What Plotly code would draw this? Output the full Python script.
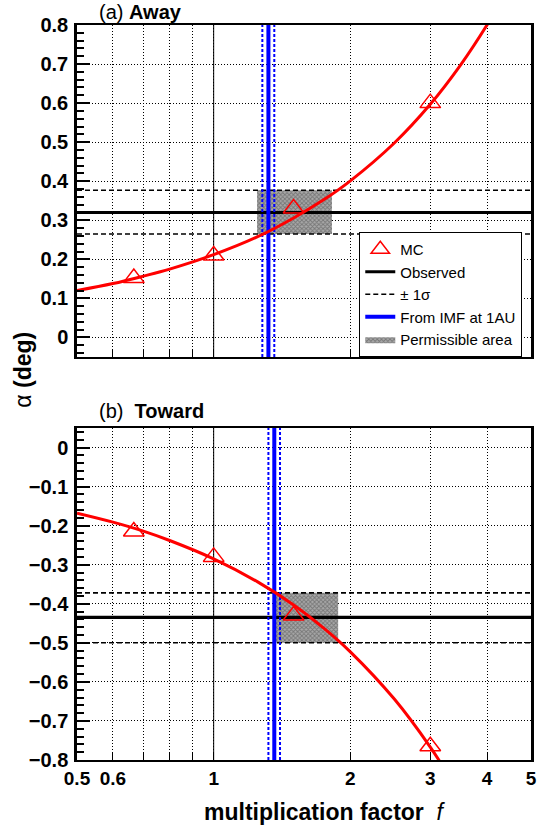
import math
import plotly.graph_objects as go

# ---------------- data ----------------
mc_f = [0.667, 1.0, 1.5, 3.0]
mc_away = [0.152, 0.21, 0.33, 0.60]
mc_toward = [-0.215, -0.28, -0.43, -0.765]

curve_away_f = [0.5, 0.6, 0.7, 0.8, 1.0, 1.25, 1.5, 1.75, 2.0, 2.5, 3.0, 3.5, 4.0, 4.2]
curve_away = [0.120, 0.138, 0.157, 0.175, 0.212, 0.258, 0.306, 0.353, 0.401, 0.498, 0.597, 0.698, 0.800, 0.842]
curve_toward_f = [0.5, 0.6, 0.7, 0.8, 1.0, 1.25, 1.5, 1.75, 2.0, 2.5, 3.0, 3.3]
curve_toward = [-0.168, -0.191, -0.214, -0.238, -0.285, -0.344, -0.403, -0.463, -0.523, -0.644, -0.767, -0.842]

observed_away = 0.32
sigma_away = [0.265, 0.377]
observed_toward = -0.435
sigma_toward = [-0.372, -0.500]

imf_away = 1.32
imf_away_err = [1.28, 1.36]
imf_toward = 1.36
imf_toward_err = [1.32, 1.40]

perm_away_f = [1.246, 1.822]
perm_toward_f = [1.37, 1.88]

x_range = [0.5, 5.0]
y_range_away = [-0.05, 0.8]
y_range_toward = [-0.8, 0.05]
unit_line_f = 1.0

x_tickvals = [0.5, 0.6, 0.7, 0.8, 0.9, 1, 2, 3, 4, 5]
x_ticktext = ["0.5", "0.6", "", "", "", "1", "2", "3", "4", "5"]

# ---------------- figure ----------------
FONT = "Liberation Sans, Arial, Helvetica, sans-serif"
fig = go.Figure()


def add_panel(xa, ya, yr, obs, sig, imf, imf_err, perm_f, cf, cv, mcv, legend):
    # permissible area
    fig.add_trace(go.Scatter(
        x=[perm_f[0], perm_f[1], perm_f[1], perm_f[0], perm_f[0]],
        y=[sig[0], sig[0], sig[1], sig[1], sig[0]],
        mode="lines", fill="toself", line=dict(width=0, color="#777"),
        fillcolor="#999999",
        fillpattern=dict(shape="x", fgcolor="#444444", bgcolor="#a8a8a8", size=3, solidity=0.5),
        name="Permissible area", showlegend=legend, legendrank=5,
        xaxis=xa, yaxis=ya, hoverinfo="skip"))
    # x = 1 reference line
    fig.add_trace(go.Scatter(x=[unit_line_f, unit_line_f], y=yr, mode="lines",
                             line=dict(color="black", width=1), showlegend=False,
                             xaxis=xa, yaxis=ya, hoverinfo="skip"))
    # sigma band
    for i, s in enumerate(sig):
        fig.add_trace(go.Scatter(x=x_range, y=[s, s], mode="lines",
                                 line=dict(color="black", width=1.6, dash="5px,3px"),
                                 name="\u00b1 1\u03c3", showlegend=legend and i == 0, legendrank=3,
                                 xaxis=xa, yaxis=ya, hoverinfo="skip"))
    # observed
    fig.add_trace(go.Scatter(x=x_range, y=[obs, obs], mode="lines",
                             line=dict(color="black", width=3.2),
                             name="Observed", showlegend=legend, legendrank=2,
                             xaxis=xa, yaxis=ya, hoverinfo="skip"))
    # IMF
    for e in imf_err:
        fig.add_trace(go.Scatter(x=[e, e], y=yr, mode="lines",
                                 line=dict(color="#0000ff", width=2, dash="3px,2px"),
                                 showlegend=False, xaxis=xa, yaxis=ya, hoverinfo="skip"))
    fig.add_trace(go.Scatter(x=[imf, imf], y=yr, mode="lines",
                             line=dict(color="#0000ff", width=4),
                             name="From IMF at 1AU", showlegend=legend, legendrank=4,
                             xaxis=xa, yaxis=ya, hoverinfo="skip"))
    # fit curve
    fig.add_trace(go.Scatter(x=cf, y=cv, mode="lines", line=dict(color="#ff0000", width=3, shape="spline"),
                             showlegend=False, xaxis=xa, yaxis=ya, hoverinfo="skip"))
    # MC
    fig.add_trace(go.Scatter(x=mc_f, y=mcv, mode="markers",
                             marker=dict(symbol="triangle-up-open", size=18, color="#ff0000",
                                         line=dict(width=1.5, color="#ff0000")),
                             name="MC", showlegend=legend, legendrank=1,
                             xaxis=xa, yaxis=ya, hoverinfo="skip"))


add_panel("x", "y", y_range_away, observed_away, sigma_away, imf_away, imf_away_err,
          perm_away_f, curve_away_f, curve_away, mc_away, True)
add_panel("x2", "y2", y_range_toward, observed_toward, sigma_toward, imf_toward, imf_toward_err,
          perm_toward_f, curve_toward_f, curve_toward, mc_toward, False)

xcommon = dict(type="log", range=[math.log10(x_range[0]), math.log10(x_range[1])],
               tickvals=x_tickvals, showgrid=True, gridcolor="black", gridwidth=1,
               griddash="1px,2px", showline=True, linecolor="black", linewidth=2, mirror=True,
               ticks="inside", ticklen=7, tickcolor="black", zeroline=False)
ycommon = dict(dtick=0.1, tick0=0, showgrid=True, gridcolor="black", gridwidth=1,
               griddash="1px,2px", showline=True, linecolor="black", linewidth=2.5, mirror=True,
               ticks="inside", ticklen=13, tickcolor="black", tickwidth=1.5, zeroline=False,
               minor=dict(dtick=0.02, ticks="inside", ticklen=7, tickcolor="black", showgrid=False),
               tickfont=dict(family=FONT, size=20, color="black", weight="bold"),
               ticklabelstandoff=2)

top_dom = [(760 - 357) / 735, 1.0]
bot_dom = [0.0, (760 - 428) / 735]

fig.update_layout(
    width=541, height=827,
    margin=dict(l=77, r=4, t=25, b=67),
    paper_bgcolor="white", plot_bgcolor="white",
    xaxis=dict(**xcommon, anchor="y", showticklabels=False),
    yaxis=dict(**ycommon, domain=top_dom, range=y_range_away, anchor="x"),
    xaxis2=dict(**xcommon, anchor="y2", ticktext=x_ticktext,
                tickfont=dict(family=FONT, size=19, color="black", weight="bold"),
                ticklabelstandoff=0),
    yaxis2=dict(**ycommon, domain=bot_dom, range=y_range_toward, anchor="x2"),
    legend=dict(x=(363 - 77) / 460, y=top_dom[0], xanchor="left", yanchor="bottom",
                bordercolor="black", borderwidth=1, bgcolor="white",
                font=dict(family=FONT, size=15, color="black"), tracegroupgap=0,
                itemwidth=30),
    showlegend=True,
)

fig.add_annotation(xref="paper", yref="paper", x=(97 - 77) / 460, y=(760 - 12) / 735,
                   xanchor="left", yanchor="middle", showarrow=False,
                   text="(a) <b>Away</b>", font=dict(family=FONT, size=20, color="black"))
fig.add_annotation(xref="paper", yref="paper", x=(97 - 77) / 460, y=(760 - 411) / 735,
                   xanchor="left", yanchor="middle", showarrow=False,
                   text="(b)  <b>Toward</b>", font=dict(family=FONT, size=20, color="black"))
fig.add_annotation(xref="paper", yref="paper", x=(328 - 77) / 460, y=(760 - 812) / 735,
                   xanchor="center", yanchor="middle", showarrow=False,
                   text="<b>multiplication factor</b>  <i>f</i>",
                   font=dict(family=FONT, size=23, color="black"))
fig.add_annotation(xref="paper", yref="paper", x=(22 - 77) / 460, y=(760 - 370) / 735,
                   xanchor="center", yanchor="middle", showarrow=False, textangle=-90,
                   text="\u03b1 <b>(deg)</b>",
                   font=dict(family=FONT, size=23, color="black"))

# remove the default 8px page margin so the figure fills the window exactly
fig.write_html("out.html", config={"displayModeBar": False},
               post_script="document.body.style.margin='0px';")
